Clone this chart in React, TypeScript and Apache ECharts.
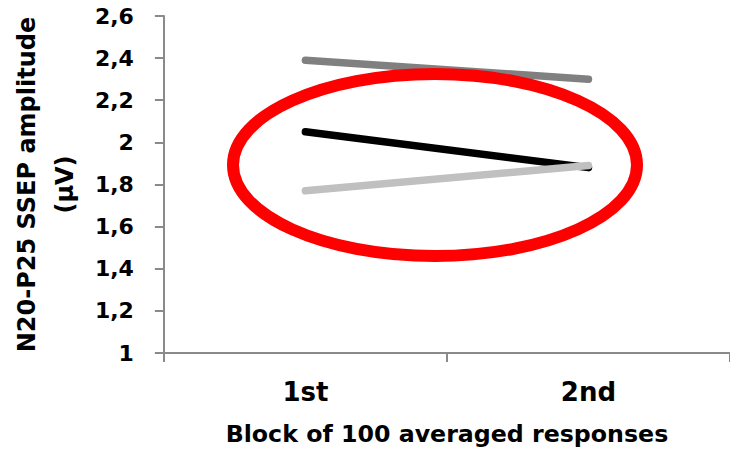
import React, { useEffect, useRef } from "react";
import * as echarts from "echarts";

const categories = ["1st", "2nd"];
const seriesNames = ["Series A", "Series B", "Series C"];
const darkGrayValues = [2.39, 2.3];
const blackValues = [2.05, 1.88];
const lightGrayValues = [1.77, 1.89];
const yTicks = { min: 1, max: 2.6, interval: 0.2 };
const yAxisTitle = "N20-P25 SSEP amplitude\n(μV)";
const xAxisTitle = "Block of 100 averaged responses";

const FONT = "DejaVu Sans";

export default function App() {
  const ref = useRef<HTMLDivElement>(null);
  useEffect(() => {
    if (!ref.current) return;
    const chart = echarts.init(ref.current, null, { renderer: "svg" });
    const axisColor = "#8a8a8a";
    chart.setOption({
      animation: false,
      backgroundColor: "#ffffff",
      grid: { left: 153, right: -8, top: 16, bottom: 98, containLabel: false },
      xAxis: {
        type: "category",
        data: categories,
        boundaryGap: true,
        axisLine: { show: true, lineStyle: { color: axisColor, width: 2 } },
        axisTick: { show: true, length: 9, inside: false, lineStyle: { color: axisColor, width: 2 } },
        axisLabel: { color: "#000", fontFamily: FONT, fontWeight: "bold", fontSize: 26, margin: 26 },
        splitLine: { show: false },
        name: xAxisTitle,
        nameLocation: "middle",
        nameGap: 69,
        nameTextStyle: { color: "#000", fontFamily: FONT, fontWeight: "bold", fontSize: 23.7 },
      },
      yAxis: {
        type: "value",
        min: yTicks.min,
        max: yTicks.max,
        interval: yTicks.interval,
        axisLine: { show: true, lineStyle: { color: axisColor, width: 2 } },
        axisTick: { show: true, length: 9, lineStyle: { color: axisColor, width: 2 } },
        splitLine: { show: false },
        axisLabel: {
          color: "#000",
          fontFamily: FONT,
          fontWeight: "bold",
          fontSize: 22,
          margin: 30,
          formatter: (v: number) => String(+v.toFixed(1)).replace(".", ","),
        },
        name: yAxisTitle,
        nameLocation: "middle",
        nameRotate: 90,
        nameGap: 74,
        nameTextStyle: {
          color: "#000",
          fontFamily: FONT,
          fontWeight: "bold",
          fontSize: 24,
          lineHeight: 38,
          align: "center",
        },
      },
      series: [
        {
          name: seriesNames[0],
          type: "line",
          data: darkGrayValues,
          showSymbol: false,
          symbol: "none",
          lineStyle: { color: "#808080", width: 7.5, cap: "round" },
          z: 2,
        },
        {
          name: seriesNames[1],
          type: "line",
          data: blackValues,
          showSymbol: false,
          symbol: "none",
          lineStyle: { color: "#000000", width: 7.5, cap: "round" },
          z: 2,
        },
        {
          name: seriesNames[2],
          type: "line",
          data: lightGrayValues,
          showSymbol: false,
          symbol: "none",
          lineStyle: { color: "#c0c0c0", width: 7.5, cap: "round" },
          z: 3,
        },
      ],
      graphic: [
        {
          type: "ellipse",
          z: 100,
          shape: { cx: 435, cy: 165, rx: 202, ry: 91 },
          style: { fill: "transparent", stroke: "#ff0000", lineWidth: 12 },
        },
      ],
    });
    return () => chart.dispose();
  }, []);
  return (
    <div
      ref={ref}
      style={{ position: "absolute", left: 0, top: 0, width: 730, height: 451 }}
    />
  );
}
